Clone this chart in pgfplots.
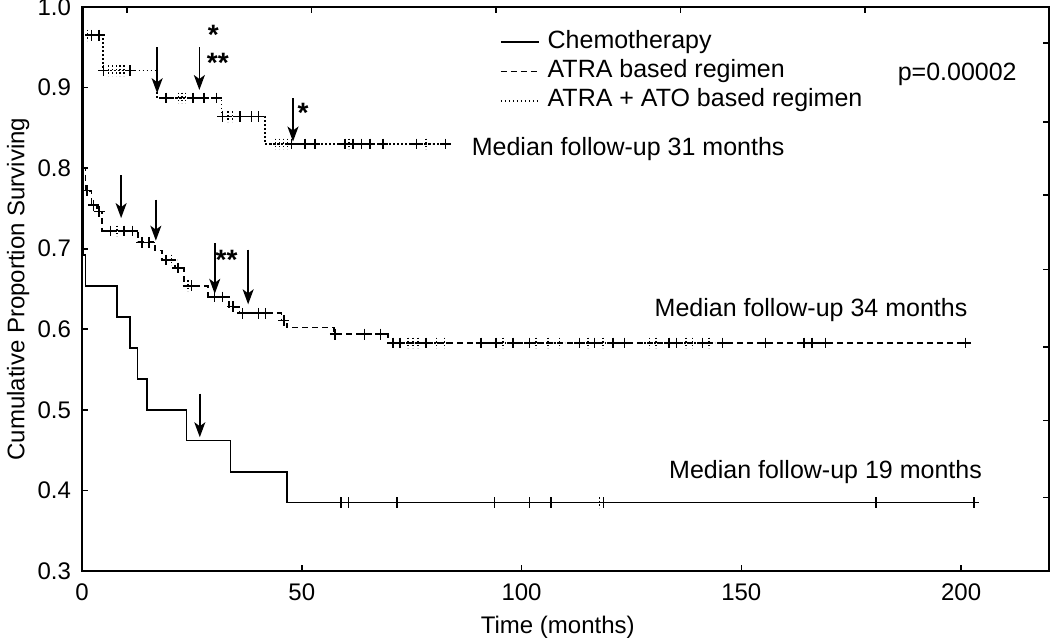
\documentclass[border=0pt]{standalone}
\usepackage{pgfplots}
\pgfplotsset{compat=1.18}
\usepackage{fontspec}
\setmainfont{Liberation Sans}
\usetikzlibrary{arrows.meta}

\tikzset{
  arr/.style={line width=0.85pt, -{Stealth[length=7.5pt,width=5.5pt,inset=2pt]}},
  ann/.style={font=\fontsize{12.5}{15}\selectfont},
  star/.style={font=\bfseries\fontsize{14}{16}\selectfont, inner sep=0pt},
}
\pgfplotsset{
  censor/.style={only marks, mark=+, mark size=2.7pt, mark options={solid, line width=0.75pt}, forget plot},
  dcensor/.style={only marks, mark=+, mark size=2.7pt, mark options={dash pattern=on 0.8pt off 1.0pt, line width=0.75pt}, forget plot},
}

\begin{document}
\begin{tikzpicture}
\begin{axis}[
  at={(0,0)}, anchor=south west, scale only axis,
  width=483.5pt, height=282pt,
  xmin=0, xmax=220, ymin=0.3, ymax=1.0,
  xtick={0,50,100,150,200},
  ytick={0.3,0.4,0.5,0.6,0.7,0.8,0.9,1.0},
  xtick pos=lower, ytick pos=lower,
  tick align=inside, major tick length=3pt,
  tick style={line width=0.8pt, black},
  axis line style={line width=0.9pt},
  /pgf/number format/assume math mode=true,
  every tick label/.append style={font=\fontsize{12}{14}\selectfont},
  xticklabel style={yshift=-3pt},
  yticklabel style={xshift=-2pt, /pgf/number format/.cd, fixed, fixed zerofill, precision=1},
  xlabel={Time (months)},
  ylabel={Cumulative Proportion Surviving},
  xlabel style={at={(axis description cs:0.492,-0.099)}, anchor=center, font=\fontsize{12}{14}\selectfont},
  ylabel style={at={(axis description cs:-0.066,0.5)}, anchor=center, font=\fontsize{12}{14}\selectfont},
  legend style={at={(axis cs:95,0.974)}, anchor=north west, draw=none, fill=none,
    inner sep=0pt, row sep=0.6pt, column sep=3pt, font=\fontsize{12.5}{15}\selectfont,
    nodes={inner sep=1pt, text height=9pt, text depth=3pt}},
  legend cell align=left,
  legend image code/.code={\draw[#1] (0pt,0pt) -- (19pt,0pt);},
]
% ---------------- Chemotherapy (solid)
\addplot[const plot, line width=0.85pt, black] coordinates {
 (0,1.0) (0.3,0.692) (0.8,0.654) (7.9,0.615) (10.9,0.577) (12.6,0.538)
 (14.8,0.5) (23.8,0.462) (33.8,0.423) (46.7,0.385) (202.9,0.385)};
\addlegendentry{Chemotherapy}
% ---------------- ATRA based (dashed)
\addplot[const plot, line width=0.8pt, black, dash pattern=on 3pt off 2pt] coordinates {
 (0,0.80) (0.8,0.772) (2.2,0.754) (3.4,0.746) (4.6,0.722) (12.8,0.708)
 (16.6,0.698) (18.2,0.686) (21.2,0.676) (23.2,0.654) (28.6,0.640)
 (33.4,0.628) (35.8,0.620) (45.4,0.611) (46.6,0.602) (57.3,0.594)
 (69.6,0.583) (201,0.583)};
\addlegendentry{ATRA based regimen}
% ---------------- ATRA + ATO (dotted)
\addplot[const plot, line width=0.8pt, black, dash pattern=on 0.7pt off 1.3pt] coordinates {
 (0,0.965) (4.8,0.921) (17.0,0.887) (31.7,0.864) (41.6,0.830) (82.7,0.830)};
\addlegendentry{ATRA + ATO based regimen}

% censored marks: chemotherapy
\addplot[censor] coordinates {
 (58.9,0.385) (60.6,0.385) (71.7,0.385) (93.8,0.385) (101.8,0.385) (106.7,0.385)
 (118.6,0.385) (180.6,0.385) (202.9,0.385)};
\addplot[dcensor] coordinates {(117.7,0.385)};

% censored marks: ATRA based
\addplot[censor] coordinates {
 (1.1,0.772) (2.6,0.754) (3.9,0.746) (6.5,0.722) (9.5,0.722) (11.5,0.722)
 (13.6,0.708) (15.3,0.708) (19.1,0.686) (21.8,0.676) (24.9,0.654)
 (30.2,0.640) (32.0,0.640) (34.3,0.628) (36.5,0.620) (40.1,0.620) (41.7,0.620)
 (45.9,0.611) (57.6,0.594) (64.3,0.594) (67.9,0.594)
 (70.8,0.583) (72.3,0.583) (78.3,0.583) (90.8,0.583) (94.2,0.583) (98.0,0.583)
 (101.8,0.583) (113.2,0.583) (116.6,0.583) (120.8,0.583) (123.4,0.583)
 (133.6,0.583) (135.2,0.583) (141.2,0.583) (145.7,0.583) (155.5,0.583)
 (164.3,0.583) (166.1,0.583) (169.1,0.583) (201,0.583)};
\addplot[dcensor] coordinates {
 (8.0,0.722) (20.4,0.686) (24.1,0.654)
 (74.2,0.583) (75.3,0.583) (76.4,0.583) (80.6,0.583) (82.5,0.583) (95.8,0.583)
 (103.3,0.583) (106.0,0.583) (108.6,0.583) (115.1,0.583) (118.5,0.583)
 (129.1,0.583) (130.6,0.583) (137.4,0.583) (138.9,0.583) (142.7,0.583)};

% censored marks: ATRA + ATO
\addplot[censor] coordinates {
 (2.2,0.965) (3.9,0.965) (4.9,0.921) (10.9,0.921) (19.1,0.887) (25.3,0.887)
 (27.7,0.887) (30.6,0.887) (32.0,0.864) (35.9,0.864) (38.6,0.864) (40.1,0.864)
 (47.7,0.830) (50.7,0.830) (53.0,0.830) (59.8,0.830) (61.7,0.830) (63.6,0.830)
 (65.5,0.830) (68.5,0.830) (76.1,0.830) (82.7,0.830)};
\addplot[dcensor] coordinates {
 (1.2,0.965) (6.0,0.921) (6.9,0.921) (7.8,0.921) (8.7,0.921) (9.6,0.921)
 (21.9,0.887) (22.7,0.887) (23.5,0.887) (33.2,0.864) (34.2,0.864)
 (44.0,0.830) (44.9,0.830) (45.8,0.830) (46.7,0.830) (60.7,0.830) (78.3,0.830)};

% arrows
\draw[arr] (axis cs:17.1,0.950) -- (axis cs:17.1,0.893);
\draw[arr] (axis cs:26.7,0.950) -- (axis cs:26.7,0.897);
\draw[arr] (axis cs:48.0,0.887) -- (axis cs:48.0,0.833);
\draw[arr] (axis cs:8.9,0.791) -- (axis cs:8.9,0.738);
\draw[arr] (axis cs:16.8,0.761) -- (axis cs:16.8,0.710);
\draw[arr] (axis cs:30.2,0.707) -- (axis cs:30.2,0.644);
\draw[arr] (axis cs:37.8,0.699) -- (axis cs:37.8,0.631);
\draw[arr] (axis cs:26.8,0.520) -- (axis cs:26.8,0.466);

% stars
\node[star] at (axis cs:29.9,0.965) {*};
\node[star] at (axis cs:30.9,0.931) {**};
\node[star] at (axis cs:50.3,0.869) {*};
\node[star] at (axis cs:32.9,0.686) {**};

% annotations
\node[ann, anchor=base west, inner sep=0pt] at (axis cs:88.6,0.816) {Median follow-up 31 months};
\node[ann, anchor=base west, inner sep=0pt] at (axis cs:130.2,0.616) {Median follow-up 34 months};
\node[ann, anchor=base west, inner sep=0pt] at (axis cs:133.5,0.415) {Median follow-up 19 months};
\node[ann, anchor=base west, inner sep=0pt] at (axis cs:185.5,0.909) {p=0.00002};
\end{axis}

% secondary (unlabelled) ticks on top and right
\begin{axis}[
  at={(0,0)}, anchor=south west, scale only axis,
  width=483.5pt, height=282pt,
  xmin=0, xmax=220, ymin=0.3, ymax=1.0,
  axis line style={draw=none},
  xtick pos=upper, ytick pos=upper,
  tick align=inside, major tick length=3pt,
  tick style={line width=0.8pt, black},
  xtick={10.2,52.2,94.2,136.2,178.2},
  ytick={0.391,0.487,0.578,0.674,0.767,0.857,0.955},
  xticklabels={}, yticklabels={},
]
\end{axis}

\pgfresetboundingbox
\path (-41pt,-34.5pt) rectangle (484pt,285.5pt);
\end{tikzpicture}
\end{document}
